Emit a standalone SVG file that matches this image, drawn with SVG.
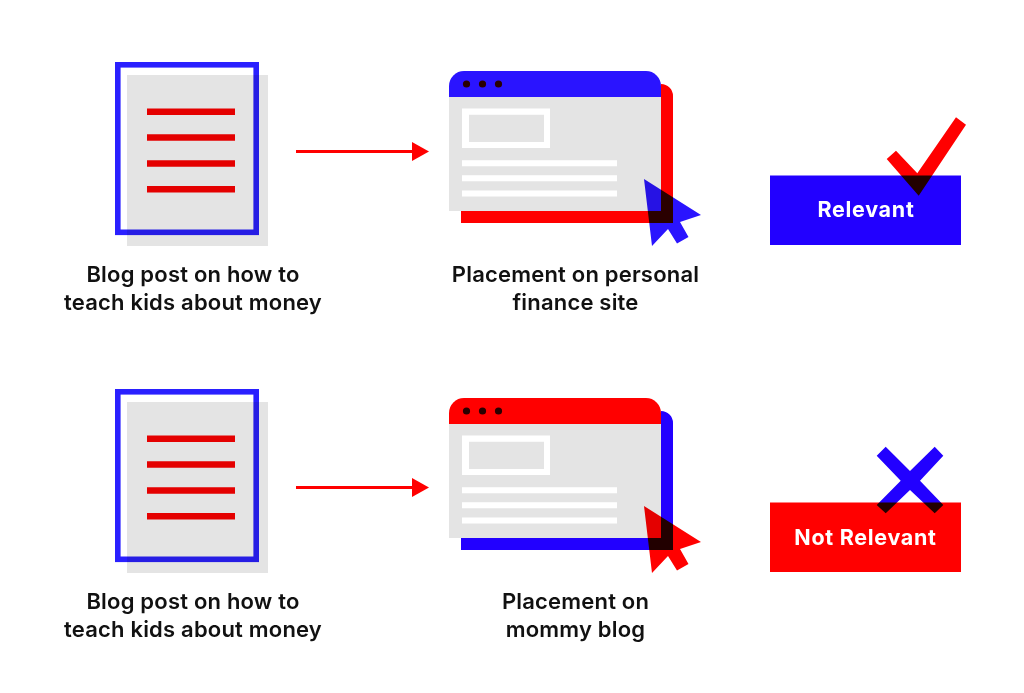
<svg xmlns="http://www.w3.org/2000/svg" width="1024" height="693" viewBox="0 0 1024 693">
<style>
.m{mix-blend-mode:multiply}
.gray{fill:#e4e4e4}
.blue{fill:#2a14ff}
.boxblue{fill:#2200ff}
.red{fill:#ff0000}
.white{fill:#fff}
.ln{stroke:#ff0000;stroke-width:6.5;stroke-linecap:butt;mix-blend-mode:multiply}
.frame{fill:none;stroke:#2a20ff;stroke-width:5.6;mix-blend-mode:multiply}
.wl{fill:#fff}
.cap{font-family:"Inter","Liberation Sans",sans-serif;font-weight:600;font-size:22px;letter-spacing:.2px;fill:#111;text-anchor:middle}
.tag{font-family:"Inter","Liberation Sans",sans-serif;font-weight:700;font-size:21.500px;letter-spacing:.7px;fill:#fff;text-anchor:middle}
.conn{stroke:#ff0000;stroke-width:3;fill:none;marker-end:url(#ah)}
</style>
<defs>
<marker id="ah" markerUnits="userSpaceOnUse" markerWidth="18" markerHeight="20" refX="0" refY="10" orient="auto">
<path d="M0 0.500L17 10L0 19.500Z" fill="#ff0000"/>
</marker>
<g id="docshape">
<rect class="gray" x="127" y="75" width="141" height="171"/>
<rect class="frame" x="117.800" y="64.800" width="138.400" height="167.500"/>
<path class="ln" d="M147 111.700H235M147 137.600H235M147 163.500H235M147 189.300H235"/>
</g>
<g id="content">
<path class="gray" d="M449 97H661V211H449Z"/>
<path class="white" fill-rule="evenodd" d="M462 108.500H550V148H462ZM469 114.800V142H544V114.800Z"/>
<path class="wl" d="M462 160.300H617V166.300H462ZM462 175.300H617V181.300H462ZM462 190.500H617V196.500H462Z"/>
</g>
<path id="cursorshape" d="M644 179L701 215L680 222L688.500 237L677 243.500L668 229L652 246Z"/>
<path id="headshape" d="M449 97V86A15 15 0 0 1 464 71H646A15 15 0 0 1 661 86V97Z"/>
<path id="backshape" d="M461 223V211H661V84A12 12 0 0 1 673 96V223Z"/>
<path id="checkshape" d="M886.700 159L896 150.700L917.300 173.300L956 117.300L966 124.700L918.700 195.700Z"/>
<path id="crossshape" d="M885.700 446.700L910 471L934.700 446.700L943.300 455.700L920 480.700L943.300 505L934.700 513.300L910 490L885.700 513.300L876.700 505L900.700 480.700L876.700 455.700Z"/>
</defs>
<rect width="1024" height="693" fill="#fff"/>
<g id="connectors">
<line class="conn" x1="296" y1="151.500" x2="412" y2="151.500"/>
<line class="conn" x1="296" y1="487.500" x2="412" y2="487.500"/>
</g>
<g id="doc-top">
<use href="#docshape"/>
<text class="cap" x="193" y="282">Blog post on how to</text>
<text class="cap" x="193" y="310">teach kids about money</text>
</g>
<g id="browser-top">
<use href="#backshape" class="red"/>
<use href="#content"/>
<use href="#headshape" class="blue"/>
<g class="red m"><circle cx="466.500" cy="84" r="3.600"/><circle cx="482.500" cy="84" r="3.600"/><circle cx="498.500" cy="84" r="3.600"/></g>
<use href="#cursorshape" class="blue m"/>
<text class="cap" x="575.500" y="282">Placement on personal</text>
<text class="cap" x="575.500" y="310">finance site</text>
</g>
<g id="relevant">
<rect class="boxblue" x="770" y="175.500" width="191" height="69.500"/>
<use href="#checkshape" class="red m"/>
<text class="tag" x="866" y="217">Relevant</text>
</g>
<g id="doc-bottom">
<use href="#docshape" y="327"/>
<text class="cap" x="193" y="609">Blog post on how to</text>
<text class="cap" x="193" y="637">teach kids about money</text>
</g>
<g id="browser-bottom">
<use href="#backshape" class="boxblue" y="327"/>
<use href="#content" y="327"/>
<use href="#headshape" class="red" y="327"/>
<g class="blue m"><circle cx="466.500" cy="411" r="3.600"/><circle cx="482.500" cy="411" r="3.600"/><circle cx="498.500" cy="411" r="3.600"/></g>
<use href="#cursorshape" class="red m" y="327"/>
<text class="cap" x="575.500" y="609">Placement on</text>
<text class="cap" x="575.500" y="637">mommy blog</text>
</g>
<g id="not-relevant">
<rect class="red" x="770" y="502.500" width="191" height="69.500"/>
<use href="#crossshape" class="boxblue m"/>
<text class="tag" x="865.500" y="544.500">Not Relevant</text>
</g>
</svg>
